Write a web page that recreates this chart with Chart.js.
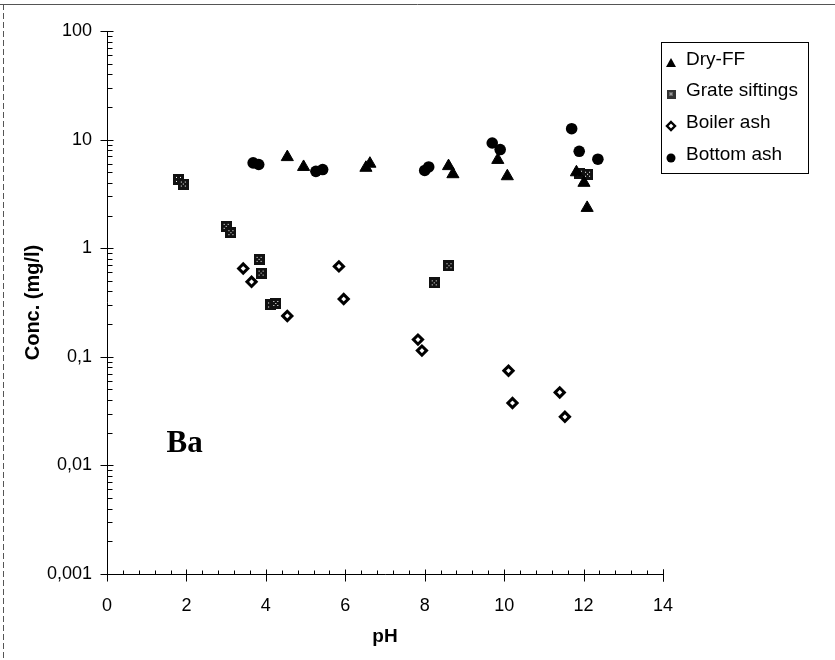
<!DOCTYPE html>
<html>
<head>
<meta charset="utf-8">
<script src="https://cdn.jsdelivr.net/npm/chart.js@4.4.1/dist/chart.umd.min.js"></script>
<style>
  html, body { margin: 0; padding: 0; background: #fff; }
  #wrap { width: 835px; height: 660px; position: relative; }
</style>
</head>
<body>
<div id="wrap"><canvas id="c" width="835" height="660"></canvas></div>
<script>
// Ba leaching: concentration (mg/l) versus pH for four residue types
const dryFFpH    = [4.54, 4.95, 6.52, 6.62, 8.60, 8.71, 9.84, 10.08, 11.82, 12.01, 12.09];
const dryFFConc  = [6.9, 5.6, 5.5, 6.0, 5.7, 4.8, 6.5, 4.6, 5.0, 4.0, 2.35];

const gratePH    = [1.80, 1.92, 3.00, 3.12, 3.83, 3.88, 4.12, 4.25, 8.24, 8.61, 11.90, 12.10];
const grateConc  = [4.3, 3.9, 1.59, 1.39, 0.79, 0.59, 0.30, 0.31, 0.48, 0.69, 4.9, 4.8];

const boilerPH   = [3.43, 3.64, 4.54, 5.84, 5.96, 7.83, 7.93, 10.11, 10.21, 11.40, 11.53];
const boilerConc = [0.65, 0.49, 0.238, 0.68, 0.34, 0.144, 0.114, 0.0745, 0.0375, 0.047, 0.028];

const bottomPH   = [3.68, 3.82, 5.26, 5.43, 8.00, 8.10, 9.70, 9.90, 11.70, 11.89, 12.36];
const bottomConc = [6.1, 5.9, 5.1, 5.3, 5.2, 5.6, 9.3, 8.1, 12.6, 7.8, 6.6];

const seriesNames = ['Dry-FF', 'Grate siftings', 'Boiler ash', 'Bottom ash'];

const yTickValues = [0.001, 0.01, 0.1, 1, 10, 100];
const yTickLabels = ['0,001', '0,01', '0,1', '1', '10', '100'];
const xTickLabels = ['0', '2', '4', '6', '8', '10', '12', '14'];

const elementName = 'Ba';

const SANS = '"Liberation Sans", Arial, sans-serif';
const SERIF = '"Liberation Serif", "Times New Roman", serif';

function pairs(xs, ys) { return xs.map((x, i) => ({ x: x, y: ys[i] })); }

// patterned square marker used for the grate siftings
function patternSquare(size, fill) {
  const cv = document.createElement('canvas');
  cv.width = size; cv.height = size;
  const g = cv.getContext('2d');
  g.fillStyle = fill;
  g.fillRect(0, 0, size, size);
  g.fillStyle = '#fff';
  const a = Math.round(size * 0.3), b = size - a - 1, m = Math.floor(size / 2);
  [[a, a], [b, a], [m, m], [a, b], [b, b]].forEach(p => g.fillRect(p[0], p[1], 1, 1));
  return cv;
}
const grateMarker = patternSquare(11, '#111');
const grateLegendMarker = patternSquare(9, '#333');

const datasets = [
  { label: seriesNames[0], data: pairs(dryFFpH, dryFFConc), pointStyle: 'triangle',
    pointRadius: 7, backgroundColor: '#000', borderColor: '#000', borderWidth: 1 },
  { label: seriesNames[1], data: pairs(gratePH, grateConc), pointStyle: grateMarker,
    pointRadius: 6, backgroundColor: '#000', borderColor: '#000', borderWidth: 0 },
  { label: seriesNames[2], data: pairs(boilerPH, boilerConc), pointStyle: 'rectRot',
    pointRadius: 4.6, backgroundColor: '#fff', borderColor: '#000', borderWidth: 3 },
  { label: seriesNames[3], data: pairs(bottomPH, bottomConc), pointStyle: 'circle',
    pointRadius: 5.8, backgroundColor: '#000', borderColor: '#000', borderWidth: 0 }
];

// axis lines with crossing major ticks and inward minor ticks
const axesPlugin = {
  id: 'axesPlugin',
  beforeDatasetsDraw(chart) {
    const { ctx, chartArea: a, scales: { x, y } } = chart;
    ctx.save();
    ctx.strokeStyle = '#000';
    ctx.lineWidth = 1;
    ctx.beginPath();
    const L = Math.round(a.left) + 0.5, B = Math.round(a.bottom) + 0.5;
    ctx.moveTo(L, a.top); ctx.lineTo(L, B);
    ctx.moveTo(L, B); ctx.lineTo(a.right, B);
    // y ticks
    for (let e = -3; e <= 2; e++) {
      const py = Math.round(y.getPixelForValue(Math.pow(10, e))) + 0.5;
      ctx.moveTo(L - 7, py); ctx.lineTo(L + 6, py);
      if (e < 2) {
        for (let k = 2; k <= 9; k++) {
          const my = Math.round(y.getPixelForValue(k * Math.pow(10, e))) + 0.5;
          ctx.moveTo(L, my); ctx.lineTo(L + 5, my);
        }
      }
    }
    // x ticks
    for (let v = 0; v <= 14.001; v += 0.4) {
      const px = Math.round(x.getPixelForValue(v)) + 0.5;
      const isMajor = Math.abs(v / 2 - Math.round(v / 2)) < 1e-6;
      if (isMajor) { ctx.moveTo(px, B - 5); ctx.lineTo(px, B + 7); }
      else { ctx.moveTo(px, B); ctx.lineTo(px, B - 4); }
    }
    const pxEnd = Math.round(x.getPixelForValue(14)) + 0.5;
    ctx.moveTo(pxEnd, B - 5); ctx.lineTo(pxEnd, B + 7);
    ctx.stroke();
    ctx.restore();
  },
  afterDraw(chart) {
    const { ctx, scales: { x, y } } = chart;
    ctx.save();
    // element label inside the plot
    ctx.fillStyle = '#000';
    ctx.font = 'bold 31px ' + SERIF;
    ctx.textBaseline = 'alphabetic';
    ctx.textAlign = 'left';
    ctx.fillText(elementName, x.getPixelForValue(1.5), y.getPixelForValue(0.0133));

    // legend box
    const bx = 661.5, by = 42.5, bw = 147, bh = 131;
    ctx.strokeStyle = '#000';
    ctx.lineWidth = 1;
    ctx.strokeRect(bx, by, bw, bh);
    ctx.font = '19px ' + SANS;
    ctx.textBaseline = 'middle';
    const rows = [60, 91, 123, 155];
    const mx = 671, tx = 686;
    rows.forEach((ry, i) => {
      ctx.fillStyle = '#000';
      ctx.fillText(chart.data.datasets[i].label, tx, ry);
      const my = ry + 3;
      ctx.beginPath();
      if (i === 0) {
        ctx.moveTo(mx, my - 5); ctx.lineTo(mx + 5, my + 4); ctx.lineTo(mx - 5, my + 4); ctx.closePath(); ctx.fill();
      } else if (i === 1) {
        ctx.drawImage(grateLegendMarker, mx - 4.5, my - 4.5);
      } else if (i === 2) {
        ctx.moveTo(mx, my - 4); ctx.lineTo(mx + 4, my); ctx.lineTo(mx, my + 4); ctx.lineTo(mx - 4, my); ctx.closePath();
        ctx.fillStyle = '#fff'; ctx.fill();
        ctx.lineWidth = 2.4; ctx.strokeStyle = '#000'; ctx.stroke();
      } else {
        ctx.arc(mx, my, 4.5, 0, Math.PI * 2); ctx.fill();
      }
    });

    // page frame lines
    ctx.strokeStyle = '#555';
    ctx.lineWidth = 1;
    ctx.setLineDash([]);
    ctx.beginPath();
    ctx.moveTo(0, 4.5); ctx.lineTo(835, 4.5);
    ctx.stroke();
    ctx.setLineDash([6, 3]);
    ctx.beginPath();
    ctx.moveTo(3.5, 4); ctx.lineTo(3.5, 660);
    ctx.stroke();
    ctx.restore();
  }
};

new Chart(document.getElementById('c'), {
  type: 'scatter',
  data: { datasets: datasets },
  options: {
    responsive: false,
    animation: false,
    devicePixelRatio: 1,
    layout: { padding: { top: 31, right: 172, left: 0, bottom: 0 } },
    plugins: { legend: { display: false }, tooltip: { enabled: false } },
    scales: {
      x: {
        type: 'linear', min: 0, max: 14,
        afterFit(s) { s.height = 86; },
        afterBuildTicks(s) { s.ticks = xTickLabels.map(t => ({ value: Number(t) })); },
        ticks: {
          autoSkip: false, maxRotation: 0, padding: 21, color: '#000',
          font: { family: SANS, size: 18 },
          callback: (v, i) => xTickLabels[i]
        },
        grid: { display: false, drawTicks: false },
        border: { display: false },
        title: { display: true, text: 'pH', color: '#000',
          font: { family: SANS, size: 19, weight: 'bold' }, padding: { top: 0, bottom: 12 } }
      },
      y: {
        type: 'logarithmic', min: 0.001, max: 100,
        afterFit(s) { s.width = 107; },
        afterBuildTicks(s) { s.ticks = yTickValues.map(v => ({ value: v })); },
        ticks: {
          autoSkip: false, padding: 15, color: '#000',
          font: { family: SANS, size: 18 },
          callback: (v, i) => yTickLabels[i]
        },
        grid: { display: false, drawTicks: false },
        border: { display: false },
        title: { display: true, text: 'Conc. (mg/l)', color: '#000',
          font: { family: SANS, size: 20, weight: 'bold' }, padding: { top: 21, bottom: 0 } }
      }
    }
  },
  plugins: [axesPlugin]
});
</script>
</body>
</html>
